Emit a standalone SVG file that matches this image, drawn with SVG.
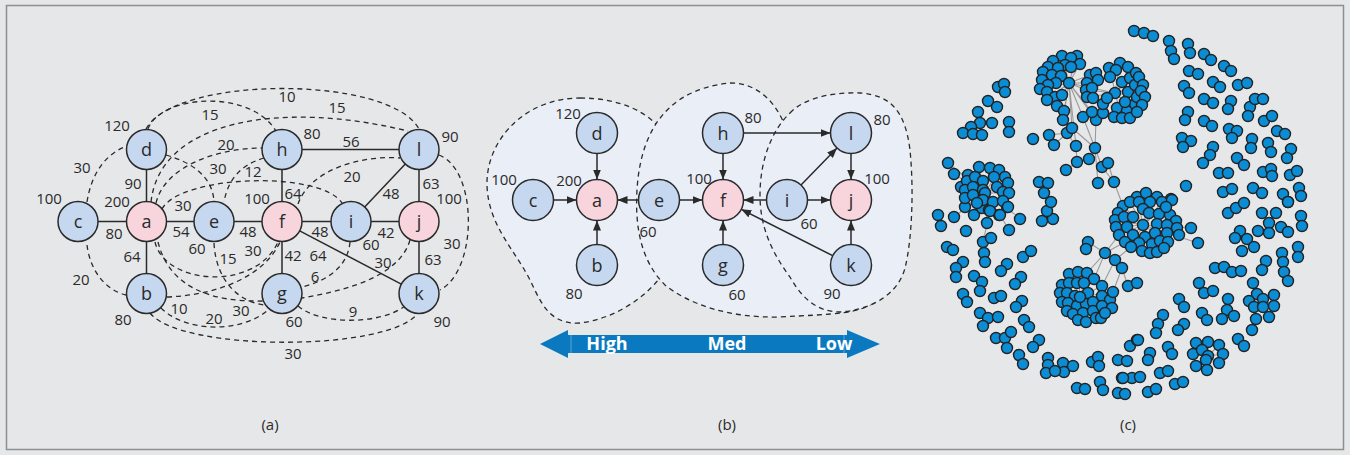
<svg xmlns="http://www.w3.org/2000/svg" xmlns:xlink="http://www.w3.org/1999/xlink" width="1350" height="455" viewBox="0 0 1350 455">
<style>
.nb{fill:#c6d8ef;stroke:#2a2a2a;stroke-width:1.5}
.np{fill:#f8d5dd;stroke:#2a2a2a;stroke-width:1.5}
.nt{font-family:"Open Sans","Liberation Sans",sans-serif;font-size:18px;fill:#2a2a2a;text-anchor:middle}
.lb{font-family:"Open Sans","Liberation Sans",sans-serif;font-size:15px;fill:#2a2a2a;text-anchor:middle}
.cap{font-family:"Open Sans","Liberation Sans",sans-serif;font-size:15px;fill:#2a2a2a;text-anchor:middle}
.sl{stroke:#2a2a2a;stroke-width:1.5;fill:none}
.dl{stroke:#2a2a2a;stroke-width:1.3;fill:none;stroke-dasharray:5 4}
.ar{stroke:#2a2a2a;stroke-width:1.5;fill:none;marker-end:url(#ah)}
.blob{fill:#e9eef7}
.bl{fill:none;stroke:#2a2a2a;stroke-width:1.3;stroke-dasharray:5 4}
.sc{font-family:"Open Sans","Liberation Sans",sans-serif;font-size:18px;font-weight:bold;fill:#ffffff;text-anchor:middle}
.ge{stroke:#9a9a9a;stroke-width:1.1;fill:none}
</style>
<defs>
<marker id="ah" viewBox="0 0 10 8" refX="10" refY="4" markerWidth="10" markerHeight="8" markerUnits="userSpaceOnUse" orient="auto">
<path d="M0,0 L10,4 L0,8 z" fill="#2a2a2a"/>
</marker>
</defs>
<rect x="0" y="0" width="1350" height="455" fill="#e6e7e9"/>
<rect x="6.5" y="5.5" width="1337" height="444" fill="none" stroke="#8e8e8e" stroke-width="1.5"/>

<!-- ===== Panel (a) ===== -->
<g id="a-connectors">
<line class="sl" x1="98" y1="221.5" x2="126.5" y2="221.5"/>
<line class="sl" x1="166.5" y1="221.5" x2="194" y2="221.5"/>
<line class="sl" x1="234" y1="221.5" x2="262" y2="221.5"/>
<line class="sl" x1="302" y1="221.5" x2="331" y2="221.5"/>
<line class="sl" x1="371" y1="221.5" x2="399" y2="221.5"/>
<line class="sl" x1="146.5" y1="169.5" x2="146.5" y2="201.5"/>
<line class="sl" x1="146.5" y1="241.5" x2="146.5" y2="273.5"/>
<line class="sl" x1="282" y1="169.5" x2="282" y2="201.5"/>
<line class="sl" x1="282" y1="241.5" x2="282" y2="273.5"/>
<line class="sl" x1="302" y1="149.5" x2="399" y2="149.5"/>
<line class="sl" x1="419" y1="169.5" x2="419" y2="201.5"/>
<line class="sl" x1="419" y1="241.5" x2="419" y2="273.5"/>
<line class="sl" x1="405.3" y1="164" x2="364.7" y2="207"/>
<line class="sl" x1="299.7" y1="230.8" x2="401.3" y2="284.2"/>
<!-- dashed -->
<path class="dl" d="M146,129 C175,75 390,75 419,129"/>
<path class="dl" d="M148,129 C160,95 250,88 276,131"/>
<path class="dl" d="M151,202 C160,120 280,100 408,131"/>
<path class="dl" d="M156,203 C165,165 220,148 262,148"/>
<path class="dl" d="M162,209 C180,175 320,170 342,203"/>
<path class="dl" d="M87,202 C92,170 108,153 127,146"/>
<path class="dl" d="M166,155 C190,162 212,175 214,201"/>
<path class="dl" d="M264,158 C240,165 228,180 224,202"/>
<path class="dl" d="M298,204 C310,170 360,155 400,158"/>
<path class="dl" d="M439,155 C478,170 478,270 440,290"/>
<path class="dl" d="M410,240 C400,275 350,290 302,298"/>
<path class="dl" d="M350,242 C348,265 330,280 302,287"/>
<path class="dl" d="M298,306 C320,325 380,325 405,306"/>
<path class="dl" d="M150,313 C180,352 390,352 418,313"/>
<path class="dl" d="M87,245 C90,270 105,290 126,295"/>
<path class="dl" d="M155,242 C165,285 255,292 278,242"/>
<path class="dl" d="M158,242 C170,290 215,302 263,301"/>
<path class="dl" d="M214,243 C216,282 240,302 264,305"/>
<path class="dl" d="M167,297 C220,295 265,275 280,242"/>
<path class="dl" d="M161,308 C185,332 240,334 268,310"/>
</g>
<g id="a-node-c"><circle class="nb" cx="78" cy="221.5" r="20"/><text class="nt" x="78" y="228">c</text></g>
<g id="a-node-a"><circle class="np" cx="146.5" cy="221.5" r="20"/><text class="nt" x="146.5" y="228">a</text></g>
<g id="a-node-e"><circle class="nb" cx="214" cy="221.5" r="20"/><text class="nt" x="214" y="228">e</text></g>
<g id="a-node-f"><circle class="np" cx="282" cy="221.5" r="20"/><text class="nt" x="282" y="228">f</text></g>
<g id="a-node-i"><circle class="nb" cx="351" cy="221.5" r="20"/><text class="nt" x="351" y="228">i</text></g>
<g id="a-node-j"><circle class="np" cx="419" cy="221.5" r="20"/><text class="nt" x="419" y="228">j</text></g>
<g id="a-node-d"><circle class="nb" cx="146.5" cy="149.5" r="20"/><text class="nt" x="146.5" y="156">d</text></g>
<g id="a-node-h"><circle class="nb" cx="282" cy="149.5" r="20"/><text class="nt" x="282" y="156">h</text></g>
<g id="a-node-l"><circle class="nb" cx="419" cy="149.5" r="20"/><text class="nt" x="419" y="156">l</text></g>
<g id="a-node-b"><circle class="nb" cx="146.5" cy="293.5" r="20"/><text class="nt" x="146.5" y="300">b</text></g>
<g id="a-node-g"><circle class="nb" cx="282" cy="293.5" r="20"/><text class="nt" x="282" y="300">g</text></g>
<g id="a-node-k"><circle class="nb" cx="419" cy="293.5" r="20"/><text class="nt" x="419" y="300">k</text></g>
<g id="a-labels">
<text class="lb" x="117" y="131">120</text>
<text class="lb" x="210" y="119.5">15</text>
<text class="lb" x="287" y="101.5">10</text>
<text class="lb" x="337" y="112.5">15</text>
<text class="lb" x="312" y="138.5">80</text>
<text class="lb" x="351" y="146.5">56</text>
<text class="lb" x="450" y="141.5">90</text>
<text class="lb" x="82" y="172.5">30</text>
<text class="lb" x="226" y="149.5">20</text>
<text class="lb" x="218" y="173.5">30</text>
<text class="lb" x="253" y="176.5">12</text>
<text class="lb" x="352" y="181.5">20</text>
<text class="lb" x="133" y="188.5">90</text>
<text class="lb" x="431" y="188.5">63</text>
<text class="lb" x="391" y="198.5">48</text>
<text class="lb" x="293" y="198.5">64</text>
<text class="lb" x="49" y="203.5">100</text>
<text class="lb" x="117" y="206.5">200</text>
<text class="lb" x="183" y="210.5">30</text>
<text class="lb" x="257" y="203.5">100</text>
<text class="lb" x="449" y="203.5">100</text>
<text class="lb" x="114" y="238.5">80</text>
<text class="lb" x="181" y="236.5">54</text>
<text class="lb" x="248" y="236.5">48</text>
<text class="lb" x="320" y="236.5">48</text>
<text class="lb" x="386" y="237.5">42</text>
<text class="lb" x="371" y="249.5">60</text>
<text class="lb" x="452" y="248.5">30</text>
<text class="lb" x="197" y="253.5">60</text>
<text class="lb" x="253" y="255.5">30</text>
<text class="lb" x="132" y="261.5">64</text>
<text class="lb" x="228" y="263.5">15</text>
<text class="lb" x="293" y="260.5">42</text>
<text class="lb" x="318" y="260.5">64</text>
<text class="lb" x="433" y="264.5">63</text>
<text class="lb" x="383" y="267.5">30</text>
<text class="lb" x="315" y="281.5">6</text>
<text class="lb" x="81" y="284.5">20</text>
<text class="lb" x="179" y="313.5">10</text>
<text class="lb" x="241" y="315.5">30</text>
<text class="lb" x="214" y="323.5">20</text>
<text class="lb" x="123" y="324.5">80</text>
<text class="lb" x="353" y="316.5">9</text>
<text class="lb" x="294" y="326.5">60</text>
<text class="lb" x="442" y="326.5">90</text>
<text class="lb" x="293" y="358.5">30</text>
</g>
<text class="cap" x="270" y="430">(a)</text>

<!-- ===== Panel (b) ===== -->
<g id="b-regions">
<path id="r1" class="blob" d="M580,98 C620,98 650,112 665,135 C685,165 690,215 675,252 C660,290 620,318 580,323 C548,325 540,300 530,280 C515,250 488,225 487,185 C486,140 525,98 580,98 Z"/>
<path id="r2" class="blob" d="M730,83 C760,83 780,105 790,140 C800,175 810,215 840,238 C870,255 892,275 879,297 C866,315 830,314 780,317 C730,318 690,305 665,285 C640,260 635,225 637,190 C640,140 660,90 730,83 Z"/>
<path id="r3" class="blob" d="M790,113 C805,97 835,92 860,93 C890,95 905,110 910,150 C914,190 912,240 905,268 C898,295 870,310 840,312 C815,312 800,295 790,277 C770,250 760,225 760,195 C760,160 772,130 790,113 Z"/>
<use xlink:href="#r1" href="#r1" class="bl"/>
<use xlink:href="#r2" href="#r2" class="bl"/>
<use xlink:href="#r3" href="#r3" class="bl"/>
</g>
<g id="b-connectors">
<line class="ar" x1="597" y1="153.5" x2="597" y2="179.5"/>
<line class="ar" x1="553.5" y1="200" x2="576.5" y2="200"/>
<line class="ar" x1="597" y1="244.5" x2="597" y2="220.5"/>
<line class="ar" x1="638.5" y1="200" x2="617.5" y2="200"/>
<line class="ar" x1="679.5" y1="200" x2="702.5" y2="200"/>
<line class="ar" x1="723" y1="153.5" x2="723" y2="179.5"/>
<line class="ar" x1="723" y1="244.5" x2="723" y2="220.5"/>
<line class="ar" x1="766.5" y1="200" x2="743.5" y2="200"/>
<line class="ar" x1="807.5" y1="200" x2="830.5" y2="200"/>
<line class="ar" x1="851" y1="153.5" x2="851" y2="179.5"/>
<line class="ar" x1="851" y1="244.5" x2="851" y2="220.5"/>
<line class="ar" x1="743.5" y1="133" x2="830.5" y2="133"/>
<line class="ar" x1="801" y1="185" x2="837" y2="148"/>
<line class="ar" x1="832.7" y1="255.7" x2="741.3" y2="209.3"/>
</g>
<g id="b-node-d"><circle class="nb" cx="597" cy="133" r="20.5"/><text class="nt" x="597" y="139.5">d</text></g>
<g id="b-node-c"><circle class="nb" cx="533" cy="200" r="20.5"/><text class="nt" x="533" y="206.5">c</text></g>
<g id="b-node-a"><circle class="np" cx="597" cy="200" r="20.5"/><text class="nt" x="597" y="206.5">a</text></g>
<g id="b-node-e"><circle class="nb" cx="659" cy="200" r="20.5"/><text class="nt" x="659" y="206.5">e</text></g>
<g id="b-node-b"><circle class="nb" cx="597" cy="265" r="20.5"/><text class="nt" x="597" y="271.5">b</text></g>
<g id="b-node-h"><circle class="nb" cx="723" cy="133" r="20.5"/><text class="nt" x="723" y="139.5">h</text></g>
<g id="b-node-f"><circle class="np" cx="723" cy="200" r="20.5"/><text class="nt" x="723" y="206.5">f</text></g>
<g id="b-node-g"><circle class="nb" cx="723" cy="265" r="20.5"/><text class="nt" x="723" y="271.5">g</text></g>
<g id="b-node-i"><circle class="nb" cx="787" cy="200" r="20.5"/><text class="nt" x="787" y="206.5">i</text></g>
<g id="b-node-l"><circle class="nb" cx="851" cy="133" r="20.5"/><text class="nt" x="851" y="139.5">l</text></g>
<g id="b-node-j"><circle class="np" cx="851" cy="200" r="20.5"/><text class="nt" x="851" y="206.5">j</text></g>
<g id="b-node-k"><circle class="nb" cx="851" cy="265" r="20.5"/><text class="nt" x="851" y="271.5">k</text></g>
<g id="b-labels">
<text class="lb" x="568" y="118.5">120</text>
<text class="lb" x="504" y="184.5">100</text>
<text class="lb" x="569" y="185.5">200</text>
<text class="lb" x="648" y="236.5">60</text>
<text class="lb" x="574" y="298.5">80</text>
<text class="lb" x="699" y="183.5">100</text>
<text class="lb" x="753" y="122.5">80</text>
<text class="lb" x="882" y="124.5">80</text>
<text class="lb" x="877" y="183.5">100</text>
<text class="lb" x="809" y="228.5">60</text>
<text class="lb" x="737" y="299.5">60</text>
<text class="lb" x="832" y="298.5">90</text>
</g>
<g id="b-scale">
<path d="M540,344 L568,330 L568,335 L847,335 L847,330 L880,344 L847,358 L847,353 L568,353 L568,358 Z" fill="#0a79c0"/>
<line x1="571" y1="335" x2="571" y2="353" stroke="#5aa6d8" stroke-width="1"/>
<line x1="844" y1="335" x2="844" y2="353" stroke="#5aa6d8" stroke-width="1"/>
<text class="sc" x="607" y="350">High</text>
<text class="sc" x="727" y="350">Med</text>
<text class="sc" x="834" y="350">Low</text>
</g>
<text class="cap" x="727" y="430">(b)</text>

<!-- ===== Panel (c) ===== -->
<g id="c-edges" class="ge">
<path d="M1069,83 L1062,56 M1069,83 L1077,56 M1069,83 L1053,61 M1069,83 L1080,64 M1069,83 L1048,67 M1069,83 L1043,72 M1069,83 L1040,89 M1069,83 L1047,100 M1069,83 L1057,106 M1069,83 L1064,111 M1069,83 L1063,120 M1069,83 L1083,117 M1069,83 L1096,120 M1069,83 L1092,112 M1069,83 L1087,83 M1069,83 L1086,90 M1069,83 L1090,75 M1069,83 L1115,93 M1069,83 L1072,128 M1069,83 L1076,146"/>
<path d="M1115,93 L1110,68 M1115,93 L1120,63 M1115,93 L1136,73 M1115,93 L1143,85 M1115,93 L1145,97 M1115,93 L1137,112 M1115,93 L1122,118 M1115,93 L1103,113 M1115,93 L1096,120 M1115,93 L1087,97 M1115,93 L1086,90 M1115,93 L1103,104"/>
<path d="M1083,117 L1095,148 M1095,148 L1102,167 M1095,148 L1089,159 M1102,167 L1114,182 M1108,163 L1114,182 M1114,182 L1123,206 M1067,133 L1076,146 M1049,135 L1067,133 M1054,145 L1067,133 M1072,128 L1095,148 M1095,148 L1098,183 M1076,146 L1077,162 M1077,162 L1066,170 M1096,120 L1095,148"/>
<path d="M1143,225 L1123,206 M1143,225 L1130,202 M1143,225 L1150,202 M1143,225 L1162,202 M1143,225 L1116,227 M1143,225 L1119,235 M1143,225 L1125,242 M1143,225 L1131,247 M1143,225 L1142,251 M1143,225 L1157,252 M1143,225 L1168,242 M1143,225 L1177,228 M1143,225 L1191,228 M1143,225 L1198,243 M1143,225 L1172,200 M1143,225 L1115,220 M1143,225 L1137,197"/>
<path d="M1125,242 L1105,253 M1131,247 L1115,260 M1115,260 L1122,268 M1105,253 L1088,242 M1088,242 L1086,249 M1122,268 L1128,286 M1128,286 L1137,283 M1105,253 L1094,279 M1115,260 L1102,286 M1122,268 L1113,292 M1105,253 L1087,273 M1119,235 L1105,253"/>
<path d="M1080,297 L1069,274 M1080,297 L1078,272 M1080,297 L1087,273 M1080,297 L1094,279 M1080,297 L1062,285 M1080,297 L1060,293 M1080,297 L1062,302 M1080,297 L1067,311 M1080,297 L1078,320 M1080,297 L1086,322 M1080,297 L1096,318 M1080,297 L1105,313 M1080,297 L1112,308 M1080,297 L1110,300 M1080,297 L1113,292 M1080,297 L1102,286"/>
<path d="M985,193 L948,163 M985,193 L954,174 M985,193 L968,175 M985,193 L979,167 M985,193 L990,168 M985,193 L999,170 M985,193 L1005,177 M985,193 L1008,183 M985,193 L1009,193 M985,193 L1008,207 M985,193 L1000,215 M985,193 L990,211 M985,193 L973,215 M985,193 L965,207 M985,193 L961,187 M985,193 L954,217 M985,193 L1020,218 M985,193 L987,223 M1000,215 L1009,230 M990,211 L983,242"/>
<path d="M1208,356 L1196,343 M1208,356 L1202,350 M1208,356 L1219,345 M1208,356 L1223,354 M1208,356 L1219,363 M1208,356 L1206,360 M1208,356 L1196,366 M1208,356 L1207,370 M1208,356 L1193,354 M1208,356 L1208,342"/>
<path d="M1263,299 L1253,283 M1263,299 L1257,294 M1263,299 L1249,301 M1263,299 L1254,307 M1263,299 L1263,307 M1263,299 L1274,295 M1263,299 L1274,306 M1263,299 L1269,317"/>
<path d="M1055,371 L1046,373 M1055,371 L1048,358 M1055,371 L1048,365 M1055,371 L1063,363 M1055,371 L1064,372 M1055,371 L1073,366 M1042,221 L1047,211 M1047,211 L1051,202 M1051,202 L1044,193 M1044,193 L1039,182 M1044,193 L1048,183"/>
</g>
<g id="c-dots" fill="#0b8dd5" stroke="#232323" stroke-width="1.4">
<circle cx="1134" cy="31" r="5.5"/><circle cx="1144" cy="33" r="5.5"/><circle cx="1153" cy="36" r="5.5"/>
<circle cx="998" cy="87" r="5.5"/><circle cx="1004" cy="84" r="5.5"/><circle cx="1005" cy="92" r="5.5"/><circle cx="988" cy="101" r="5.5"/><circle cx="997" cy="107" r="5.5"/><circle cx="978" cy="112" r="5.5"/><circle cx="980" cy="123" r="5.5"/><circle cx="992" cy="123" r="5.5"/><circle cx="1009" cy="122" r="5.5"/><circle cx="1009" cy="132" r="5.5"/><circle cx="971" cy="127" r="5.5"/><circle cx="963" cy="133" r="5.5"/><circle cx="973" cy="134" r="5.5"/><circle cx="982" cy="135" r="5.5"/>
<circle cx="1033" cy="139" r="5.5"/><circle cx="1049" cy="135" r="5.5"/><circle cx="1054" cy="145" r="5.5"/><circle cx="1067" cy="133" r="5.5"/><circle cx="1072" cy="128" r="5.5"/><circle cx="1076" cy="146" r="5.5"/><circle cx="1095" cy="148" r="5.5"/><circle cx="1089" cy="159" r="5.5"/><circle cx="1077" cy="162" r="5.5"/><circle cx="1066" cy="170" r="5.5"/><circle cx="1102" cy="167" r="5.5"/><circle cx="1108" cy="163" r="5.5"/><circle cx="1098" cy="183" r="5.5"/><circle cx="1114" cy="182" r="5.5"/>
<circle cx="1062" cy="56" r="5.5"/><circle cx="1077" cy="56" r="5.5"/><circle cx="1071" cy="58" r="5.5"/><circle cx="1053" cy="61" r="5.5"/><circle cx="1065" cy="65" r="5.5"/><circle cx="1080" cy="64" r="5.5"/><circle cx="1048" cy="67" r="5.5"/><circle cx="1043" cy="72" r="5.5"/><circle cx="1058" cy="68" r="5.5"/><circle cx="1071" cy="67" r="5.5"/><circle cx="1052" cy="75" r="5.5"/><circle cx="1061" cy="76" r="5.5"/><circle cx="1042" cy="80" r="5.5"/><circle cx="1056" cy="83" r="5.5"/><circle cx="1048" cy="85" r="5.5"/><circle cx="1040" cy="89" r="5.5"/><circle cx="1069" cy="83" r="5.5"/><circle cx="1047" cy="92" r="5.5"/><circle cx="1055" cy="97" r="5.5"/><circle cx="1062" cy="95" r="5.5"/><circle cx="1047" cy="100" r="5.5"/><circle cx="1057" cy="106" r="5.5"/><circle cx="1064" cy="111" r="5.5"/><circle cx="1063" cy="120" r="5.5"/><circle cx="1083" cy="117" r="5.5"/><circle cx="1096" cy="120" r="5.5"/><circle cx="1092" cy="112" r="5.5"/><circle cx="1103" cy="113" r="5.5"/><circle cx="1103" cy="104" r="5.5"/>
<circle cx="1090" cy="75" r="5.5"/><circle cx="1096" cy="73" r="5.5"/><circle cx="1087" cy="83" r="5.5"/><circle cx="1098" cy="80" r="5.5"/><circle cx="1086" cy="90" r="5.5"/><circle cx="1092" cy="88" r="5.5"/><circle cx="1087" cy="97" r="5.5"/><circle cx="1093" cy="98" r="5.5"/><circle cx="1109" cy="68" r="5.5"/><circle cx="1120" cy="63" r="5.5"/><circle cx="1116" cy="70" r="5.5"/><circle cx="1128" cy="67" r="5.5"/><circle cx="1110" cy="77" r="5.5"/><circle cx="1122" cy="82" r="5.5"/><circle cx="1115" cy="93" r="5.5"/><circle cx="1130" cy="78" r="5.5"/><circle cx="1128" cy="92" r="5.5"/><circle cx="1136" cy="73" r="5.5"/><circle cx="1135" cy="85" r="5.5"/><circle cx="1117" cy="108" r="5.5"/><circle cx="1127" cy="111" r="5.5"/><circle cx="1135" cy="104" r="5.5"/><circle cx="1114" cy="117" r="5.5"/><circle cx="1122" cy="118" r="5.5"/><circle cx="1130" cy="118" r="5.5"/><circle cx="1107" cy="98" r="5.5"/><circle cx="1137" cy="97" r="5.5"/><circle cx="1139" cy="77" r="5.5"/><circle cx="1143" cy="85" r="5.5"/><circle cx="1141" cy="91" r="5.5"/><circle cx="1145" cy="97" r="5.5"/><circle cx="1125" cy="102" r="5.5"/><circle cx="1142" cy="105" r="5.5"/><circle cx="1137" cy="112" r="5.5"/>
<circle cx="1169" cy="41" r="5.5"/><circle cx="1171" cy="51" r="5.5"/><circle cx="1174" cy="59" r="5.5"/><circle cx="1188" cy="44" r="5.5"/><circle cx="1190" cy="53" r="5.5"/><circle cx="1204" cy="54" r="5.5"/><circle cx="1211" cy="60" r="5.5"/><circle cx="1224" cy="66" r="5.5"/><circle cx="1231" cy="71" r="5.5"/><circle cx="1189" cy="71" r="5.5"/><circle cx="1198" cy="74" r="5.5"/><circle cx="1213" cy="82" r="5.5"/><circle cx="1220" cy="87" r="5.5"/><circle cx="1238" cy="85" r="5.5"/><circle cx="1247" cy="83" r="5.5"/><circle cx="1184" cy="86" r="5.5"/><circle cx="1189" cy="93" r="5.5"/><circle cx="1204" cy="99" r="5.5"/><circle cx="1213" cy="103" r="5.5"/><circle cx="1231" cy="101" r="5.5"/><circle cx="1228" cy="109" r="5.5"/><circle cx="1250" cy="107" r="5.5"/><circle cx="1248" cy="116" r="5.5"/><circle cx="1255" cy="99" r="5.5"/><circle cx="1263" cy="99" r="5.5"/><circle cx="1188" cy="112" r="5.5"/><circle cx="1185" cy="120" r="5.5"/><circle cx="1204" cy="121" r="5.5"/><circle cx="1212" cy="126" r="5.5"/><circle cx="1229" cy="129" r="5.5"/><circle cx="1237" cy="131" r="5.5"/><circle cx="1232" cy="138" r="5.5"/><circle cx="1264" cy="121" r="5.5"/><circle cx="1272" cy="116" r="5.5"/><circle cx="1277" cy="131" r="5.5"/><circle cx="1285" cy="134" r="5.5"/><circle cx="1252" cy="139" r="5.5"/><circle cx="1251" cy="148" r="5.5"/><circle cx="1268" cy="143" r="5.5"/><circle cx="1271" cy="152" r="5.5"/><circle cx="1291" cy="149" r="5.5"/><circle cx="1287" cy="158" r="5.5"/><circle cx="1182" cy="138" r="5.5"/><circle cx="1191" cy="141" r="5.5"/><circle cx="1183" cy="147" r="5.5"/><circle cx="1213" cy="147" r="5.5"/><circle cx="1210" cy="155" r="5.5"/><circle cx="1203" cy="163" r="5.5"/><circle cx="1237" cy="158" r="5.5"/><circle cx="1244" cy="165" r="5.5"/><circle cx="1219" cy="173" r="5.5"/><circle cx="1228" cy="173" r="5.5"/><circle cx="1263" cy="172" r="5.5"/><circle cx="1271" cy="169" r="5.5"/><circle cx="1272" cy="176" r="5.5"/><circle cx="1290" cy="175" r="5.5"/><circle cx="1297" cy="171" r="5.5"/><circle cx="1186" cy="186" r="5.5"/><circle cx="1223" cy="192" r="5.5"/><circle cx="1232" cy="189" r="5.5"/><circle cx="1253" cy="188" r="5.5"/><circle cx="1262" cy="193" r="5.5"/><circle cx="1283" cy="194" r="5.5"/><circle cx="1288" cy="202" r="5.5"/><circle cx="1299" cy="188" r="5.5"/><circle cx="1301" cy="196" r="5.5"/><circle cx="1228" cy="213" r="5.5"/><circle cx="1236" cy="208" r="5.5"/><circle cx="1244" cy="203" r="5.5"/><circle cx="1262" cy="213" r="5.5"/><circle cx="1276" cy="213" r="5.5"/><circle cx="1301" cy="216" r="5.5"/>
<circle cx="1137" cy="197" r="5.5"/><circle cx="1146" cy="193" r="5.5"/><circle cx="1157" cy="197" r="5.5"/><circle cx="1171" cy="199" r="5.5"/><circle cx="1123" cy="206" r="5.5"/><circle cx="1130" cy="202" r="5.5"/><circle cx="1139" cy="202" r="5.5"/><circle cx="1150" cy="202" r="5.5"/><circle cx="1162" cy="202" r="5.5"/><circle cx="1172" cy="200" r="5.5"/><circle cx="1118" cy="213" r="5.5"/><circle cx="1115" cy="220" r="5.5"/><circle cx="1124" cy="217" r="5.5"/><circle cx="1133" cy="217" r="5.5"/><circle cx="1143" cy="209" r="5.5"/><circle cx="1149" cy="213" r="5.5"/><circle cx="1159" cy="214" r="5.5"/><circle cx="1170" cy="215" r="5.5"/><circle cx="1166" cy="207" r="5.5"/><circle cx="1176" cy="221" r="5.5"/><circle cx="1116" cy="227" r="5.5"/><circle cx="1127" cy="227" r="5.5"/><circle cx="1143" cy="225" r="5.5"/><circle cx="1157" cy="224" r="5.5"/><circle cx="1167" cy="225" r="5.5"/><circle cx="1177" cy="228" r="5.5"/><circle cx="1119" cy="235" r="5.5"/><circle cx="1133" cy="235" r="5.5"/><circle cx="1145" cy="237" r="5.5"/><circle cx="1155" cy="233" r="5.5"/><circle cx="1167" cy="233" r="5.5"/><circle cx="1179" cy="235" r="5.5"/><circle cx="1125" cy="242" r="5.5"/><circle cx="1139" cy="243" r="5.5"/><circle cx="1152" cy="244" r="5.5"/><circle cx="1160" cy="241" r="5.5"/><circle cx="1168" cy="242" r="5.5"/><circle cx="1131" cy="247" r="5.5"/><circle cx="1142" cy="251" r="5.5"/><circle cx="1150" cy="253" r="5.5"/><circle cx="1157" cy="252" r="5.5"/><circle cx="1164" cy="248" r="5.5"/><circle cx="1191" cy="228" r="5.5"/><circle cx="1198" cy="243" r="5.5"/>
<circle cx="1105" cy="253" r="5.5"/><circle cx="1115" cy="260" r="5.5"/><circle cx="1122" cy="268" r="5.5"/><circle cx="1128" cy="286" r="5.5"/><circle cx="1137" cy="283" r="5.5"/><circle cx="1088" cy="242" r="5.5"/><circle cx="1086" cy="249" r="5.5"/>
<circle cx="1069" cy="274" r="5.5"/><circle cx="1078" cy="272" r="5.5"/><circle cx="1087" cy="273" r="5.5"/><circle cx="1094" cy="279" r="5.5"/><circle cx="1062" cy="285" r="5.5"/><circle cx="1069" cy="283" r="5.5"/><circle cx="1077" cy="283" r="5.5"/><circle cx="1084" cy="283" r="5.5"/><circle cx="1102" cy="286" r="5.5"/><circle cx="1060" cy="293" r="5.5"/><circle cx="1067" cy="293" r="5.5"/><circle cx="1075" cy="296" r="5.5"/><circle cx="1088" cy="293" r="5.5"/><circle cx="1102" cy="296" r="5.5"/><circle cx="1062" cy="302" r="5.5"/><circle cx="1068" cy="303" r="5.5"/><circle cx="1077" cy="306" r="5.5"/><circle cx="1086" cy="304" r="5.5"/><circle cx="1093" cy="302" r="5.5"/><circle cx="1110" cy="300" r="5.5"/><circle cx="1067" cy="311" r="5.5"/><circle cx="1073" cy="314" r="5.5"/><circle cx="1083" cy="313" r="5.5"/><circle cx="1093" cy="311" r="5.5"/><circle cx="1102" cy="306" r="5.5"/><circle cx="1112" cy="308" r="5.5"/><circle cx="1078" cy="320" r="5.5"/><circle cx="1086" cy="322" r="5.5"/><circle cx="1096" cy="318" r="5.5"/><circle cx="1101" cy="318" r="5.5"/><circle cx="1105" cy="313" r="5.5"/><circle cx="1113" cy="292" r="5.5"/><circle cx="1080" cy="297" r="5.5"/>
<circle cx="938" cy="215" r="5.5"/><circle cx="941" cy="226" r="5.5"/><circle cx="954" cy="217" r="5.5"/><circle cx="965" cy="207" r="5.5"/><circle cx="974" cy="215" r="5.5"/><circle cx="982" cy="208" r="5.5"/><circle cx="989" cy="210" r="5.5"/><circle cx="999" cy="215" r="5.5"/><circle cx="1007" cy="207" r="5.5"/><circle cx="1020" cy="219" r="5.5"/><circle cx="966" cy="231" r="5.5"/><circle cx="987" cy="223" r="5.5"/><circle cx="1009" cy="230" r="5.5"/><circle cx="983" cy="242" r="5.5"/><circle cx="991" cy="238" r="5.5"/><circle cx="1042" cy="221" r="5.5"/><circle cx="1053" cy="219" r="5.5"/><circle cx="1047" cy="211" r="5.5"/><circle cx="1051" cy="202" r="5.5"/>
<circle cx="947" cy="247" r="5.5"/><circle cx="953" cy="250" r="5.5"/><circle cx="963" cy="262" r="5.5"/><circle cx="956" cy="268" r="5.5"/><circle cx="956" cy="277" r="5.5"/><circle cx="984" cy="253" r="5.5"/><circle cx="985" cy="262" r="5.5"/><circle cx="1007" cy="264" r="5.5"/><circle cx="1001" cy="271" r="5.5"/><circle cx="1023" cy="257" r="5.5"/><circle cx="1031" cy="251" r="5.5"/><circle cx="974" cy="276" r="5.5"/><circle cx="982" cy="282" r="5.5"/><circle cx="980" cy="291" r="5.5"/><circle cx="1021" cy="277" r="5.5"/><circle cx="1015" cy="284" r="5.5"/><circle cx="963" cy="294" r="5.5"/><circle cx="967" cy="302" r="5.5"/><circle cx="994" cy="298" r="5.5"/><circle cx="1001" cy="296" r="5.5"/><circle cx="1022" cy="301" r="5.5"/><circle cx="1016" cy="307" r="5.5"/><circle cx="980" cy="313" r="5.5"/><circle cx="988" cy="318" r="5.5"/><circle cx="998" cy="317" r="5.5"/><circle cx="983" cy="326" r="5.5"/><circle cx="1024" cy="320" r="5.5"/><circle cx="1029" cy="327" r="5.5"/><circle cx="996" cy="338" r="5.5"/><circle cx="1005" cy="338" r="5.5"/><circle cx="1011" cy="332" r="5.5"/><circle cx="1007" cy="348" r="5.5"/><circle cx="1039" cy="340" r="5.5"/><circle cx="1033" cy="347" r="5.5"/><circle cx="1019" cy="355" r="5.5"/><circle cx="1023" cy="364" r="5.5"/>
<circle cx="1048" cy="358" r="5.5"/><circle cx="1048" cy="365" r="5.5"/><circle cx="1063" cy="363" r="5.5"/><circle cx="1064" cy="372" r="5.5"/><circle cx="1073" cy="366" r="5.5"/><circle cx="1046" cy="373" r="5.5"/><circle cx="1055" cy="371" r="5.5"/><circle cx="1077" cy="388" r="5.5"/><circle cx="1085" cy="389" r="5.5"/><circle cx="1092" cy="362" r="5.5"/><circle cx="1098" cy="357" r="5.5"/><circle cx="1099" cy="366" r="5.5"/><circle cx="1100" cy="382" r="5.5"/><circle cx="1103" cy="390" r="5.5"/><circle cx="1118" cy="360" r="5.5"/><circle cx="1127" cy="361" r="5.5"/><circle cx="1122" cy="378" r="5.5"/><circle cx="1132" cy="378" r="5.5"/><circle cx="1118" cy="393" r="5.5"/><circle cx="1125" cy="394" r="5.5"/><circle cx="1130" cy="346" r="5.5"/><circle cx="1137" cy="340" r="5.5"/>
<circle cx="948" cy="163" r="5.5"/><circle cx="954" cy="174" r="5.5"/><circle cx="968" cy="175" r="5.5"/><circle cx="979" cy="167" r="5.5"/><circle cx="990" cy="168" r="5.5"/><circle cx="999" cy="170" r="5.5"/><circle cx="1005" cy="177" r="5.5"/><circle cx="961" cy="187" r="5.5"/><circle cx="967" cy="181" r="5.5"/><circle cx="975" cy="177" r="5.5"/><circle cx="983" cy="181" r="5.5"/><circle cx="994" cy="177" r="5.5"/><circle cx="1008" cy="183" r="5.5"/><circle cx="965" cy="190" r="5.5"/><circle cx="973" cy="187" r="5.5"/><circle cx="983" cy="190" r="5.5"/><circle cx="985" cy="193" r="5.5"/><circle cx="997" cy="187" r="5.5"/><circle cx="1003" cy="192" r="5.5"/><circle cx="1009" cy="193" r="5.5"/><circle cx="965" cy="198" r="5.5"/><circle cx="973" cy="195" r="5.5"/><circle cx="983" cy="200" r="5.5"/><circle cx="993" cy="202" r="5.5"/><circle cx="1003" cy="201" r="5.5"/><circle cx="977" cy="203" r="5.5"/><circle cx="990" cy="211" r="5.5"/><circle cx="1008" cy="207" r="5.5"/><circle cx="1000" cy="215" r="5.5"/>
<circle cx="1039" cy="182" r="5.5"/><circle cx="1048" cy="183" r="5.5"/><circle cx="1044" cy="193" r="5.5"/>
<circle cx="1288" cy="202" r="5.5"/><circle cx="1302" cy="226" r="5.5"/><circle cx="1269" cy="223" r="5.5"/><circle cx="1269" cy="233" r="5.5"/><circle cx="1258" cy="231" r="5.5"/><circle cx="1281" cy="227" r="5.5"/><circle cx="1288" cy="232" r="5.5"/><circle cx="1240" cy="231" r="5.5"/><circle cx="1235" cy="238" r="5.5"/><circle cx="1247" cy="239" r="5.5"/><circle cx="1254" cy="247" r="5.5"/><circle cx="1242" cy="251" r="5.5"/><circle cx="1298" cy="247" r="5.5"/><circle cx="1298" cy="257" r="5.5"/><circle cx="1282" cy="253" r="5.5"/><circle cx="1283" cy="262" r="5.5"/><circle cx="1284" cy="272" r="5.5"/><circle cx="1288" cy="281" r="5.5"/><circle cx="1266" cy="261" r="5.5"/><circle cx="1262" cy="270" r="5.5"/><circle cx="1215" cy="268" r="5.5"/><circle cx="1224" cy="267" r="5.5"/><circle cx="1232" cy="272" r="5.5"/><circle cx="1241" cy="271" r="5.5"/>
<circle cx="1253" cy="283" r="5.5"/><circle cx="1257" cy="294" r="5.5"/><circle cx="1249" cy="301" r="5.5"/><circle cx="1263" cy="299" r="5.5"/><circle cx="1254" cy="307" r="5.5"/><circle cx="1263" cy="307" r="5.5"/><circle cx="1274" cy="295" r="5.5"/><circle cx="1274" cy="306" r="5.5"/><circle cx="1269" cy="317" r="5.5"/><circle cx="1256" cy="319" r="5.5"/><circle cx="1252" cy="330" r="5.5"/>
<circle cx="1199" cy="283" r="5.5"/><circle cx="1204" cy="293" r="5.5"/><circle cx="1213" cy="291" r="5.5"/><circle cx="1179" cy="299" r="5.5"/><circle cx="1184" cy="307" r="5.5"/><circle cx="1228" cy="299" r="5.5"/><circle cx="1227" cy="310" r="5.5"/><circle cx="1222" cy="319" r="5.5"/><circle cx="1234" cy="316" r="5.5"/><circle cx="1202" cy="313" r="5.5"/><circle cx="1207" cy="320" r="5.5"/><circle cx="1163" cy="315" r="5.5"/><circle cx="1158" cy="324" r="5.5"/><circle cx="1156" cy="333" r="5.5"/><circle cx="1184" cy="324" r="5.5"/><circle cx="1178" cy="330" r="5.5"/><circle cx="1138" cy="340" r="5.5"/><circle cx="1238" cy="339" r="5.5"/><circle cx="1244" cy="346" r="5.5"/>
<circle cx="1196" cy="343" r="5.5"/><circle cx="1208" cy="342" r="5.5"/><circle cx="1219" cy="345" r="5.5"/><circle cx="1193" cy="354" r="5.5"/><circle cx="1202" cy="350" r="5.5"/><circle cx="1208" cy="356" r="5.5"/><circle cx="1223" cy="354" r="5.5"/><circle cx="1196" cy="366" r="5.5"/><circle cx="1206" cy="360" r="5.5"/><circle cx="1219" cy="363" r="5.5"/><circle cx="1207" cy="370" r="5.5"/>
<circle cx="1168" cy="347" r="5.5"/><circle cx="1172" cy="354" r="5.5"/><circle cx="1150" cy="353" r="5.5"/><circle cx="1148" cy="360" r="5.5"/><circle cx="1160" cy="373" r="5.5"/><circle cx="1168" cy="371" r="5.5"/><circle cx="1123" cy="378" r="5.5"/><circle cx="1140" cy="377" r="5.5"/><circle cx="1175" cy="384" r="5.5"/><circle cx="1183" cy="382" r="5.5"/><circle cx="1148" cy="392" r="5.5"/><circle cx="1156" cy="389" r="5.5"/>
</g>
<text class="cap" x="1128" y="430">(c)</text>
</svg>
